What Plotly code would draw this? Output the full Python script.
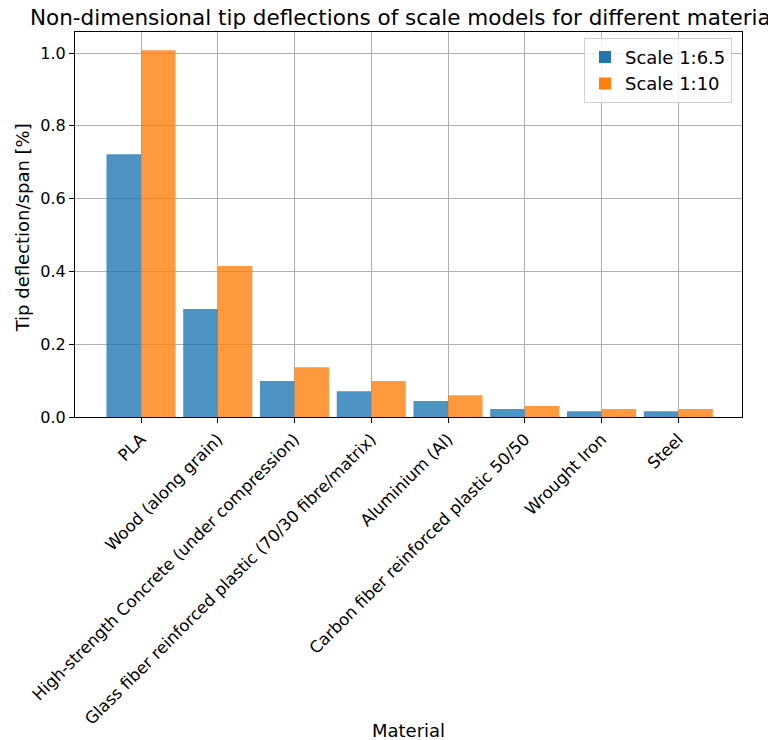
import plotly.graph_objects as go

materials = [
    "PLA",
    "Wood (along grain)",
    "High-strength Concrete (under compression)",
    "Glass fiber reinforced plastic (70/30 fibre/matrix)",
    "Aluminium (Al)",
    "Carbon fiber reinforced plastic 50/50",
    "Wrought Iron",
    "Steel",
]
scale_6_5 = [0.722, 0.297, 0.099, 0.071, 0.044, 0.022, 0.016, 0.016]
scale_10 = [1.008, 0.415, 0.137, 0.099, 0.060, 0.030, 0.022, 0.022]
series_names = ["Scale 1:6.5", "Scale 1:10"]
y_ticks = [0.0, 0.2, 0.4, 0.6, 0.8, 1.0]

FONT = "DejaVu Sans"
W, H = 768, 740
L, R, T, B = 75, 26, 32, 323

fig = go.Figure()
fig.add_trace(go.Bar(x=materials, y=scale_6_5, name=series_names[0],
                     marker=dict(color="#1f77b4", opacity=0.8, line=dict(width=0))))
fig.add_trace(go.Bar(x=materials, y=scale_10, name=series_names[1],
                     marker=dict(color="#ff7f0e", opacity=0.8, line=dict(width=0))))

fig.update_layout(
    width=W, height=H,
    margin=dict(l=L, r=R, t=T, b=B, autoexpand=False),
    paper_bgcolor="white", plot_bgcolor="white",
    barmode="group", bargap=0.1, bargroupgap=0,
    font=dict(family=FONT, size=16, color="black"),
    showlegend=True,
    legend=dict(x=0.985, y=0.985, xanchor="right", yanchor="top",
                bgcolor="rgba(255,255,255,0.8)", bordercolor="#d0d0d0", borderwidth=1,
                font=dict(family=FONT, size=18), itemsizing="constant",
                tracegroupgap=2),
)

fig.update_xaxes(
    type="category", range=[-0.86, 7.83],
    showgrid=True, gridcolor="#b0b0b0", gridwidth=1,
    showline=True, linecolor="black", linewidth=1.2, mirror=True,
    ticks="outside", ticklen=5, tickcolor="black", tickwidth=1,
    tickangle=-45, tickfont=dict(family=FONT, size=16.5),
    zeroline=False,
)
fig.update_yaxes(
    range=[0, 1.058], tickvals=y_ticks, tickformat=".1f",
    showgrid=True, gridcolor="#b0b0b0", gridwidth=1,
    showline=True, linecolor="black", linewidth=1.2, mirror=True,
    ticks="outside", ticklen=5, tickcolor="black", tickwidth=1,
    tickfont=dict(family=FONT, size=16),
    zeroline=False,
)

fig.add_annotation(text="Non-dimensional tip deflections of scale models for different materials",
                   xref="paper", yref="paper", x=0.5, y=1 + 15 / 385, xanchor="center", yanchor="middle",
                   showarrow=False, font=dict(family=FONT, size=21.5, color="black"))
fig.add_annotation(text="Material", xref="paper", yref="paper", x=0.5, y=(417 - 730) / 385,
                   xanchor="center", yanchor="middle", showarrow=False,
                   font=dict(family=FONT, size=18, color="black"))
fig.add_annotation(text="Tip deflection/span [%]", xref="paper", yref="paper",
                   x=(22 - 75) / 667, y=0.49, xanchor="center", yanchor="middle", textangle=-90,
                   showarrow=False, font=dict(family=FONT, size=18, color="black"))

fig.write_html("out.html", config={"displayModeBar": False},
               post_script="document.body.style.margin='0';")
